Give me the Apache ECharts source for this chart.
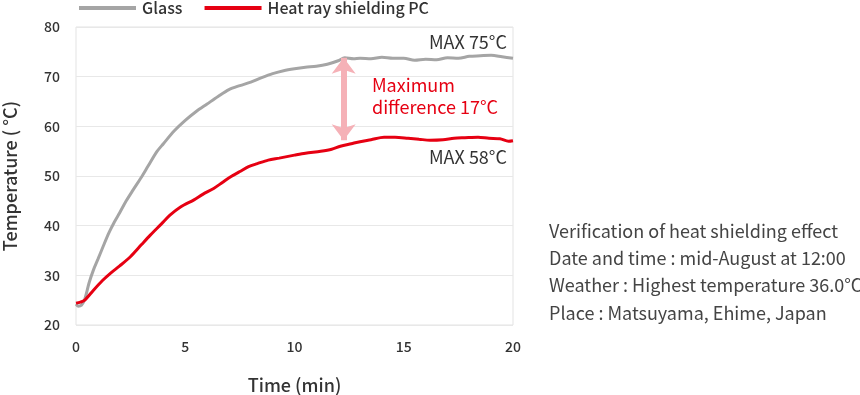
<!DOCTYPE html>
<html><head><meta charset="utf-8">
<script src="https://cdn.jsdelivr.net/npm/echarts@6/dist/echarts.min.js"></script>
<style>html,body{margin:0;padding:0;background:#fff}#c{width:860px;height:395px}</style>
</head><body><div id="c"></div>
<script>
const glassTime = [0,0.1,0.25,0.4,0.6,0.8,1.0,1.25,1.5,1.75,2.0,2.3,2.6,3.0,3.3,3.7,4.0,4.5,5.0,5.5,6.0,6.5,7.0,7.5,8.0,8.5,9.0,9.5,10,10.5,11,11.5,12,12.3,12.7,13,13.5,14,14.5,15,15.5,16,16.5,17,17.5,18,18.5,19,19.5,20];
const glassTemp = [24.2,23.8,24.0,25.2,28.5,31.1,33.2,35.9,38.5,40.7,42.6,45.0,47.1,49.8,52.0,54.9,56.5,59.1,61.2,63.0,64.5,66.0,67.4,68.2,68.9,69.8,70.6,71.2,71.6,71.9,72.1,72.5,73.2,73.8,73.6,73.7,73.6,73.9,73.7,73.7,73.3,73.5,73.4,73.8,73.7,74.1,74.2,74.3,74.0,73.7];
const pcTime = [0,0.2,0.4,0.8,1.2,1.6,2.0,2.5,3.0,3.4,3.9,4.3,4.8,5.4,5.8,6.3,6.7,7.1,7.5,7.9,8.3,8.8,9.3,10.0,10.5,11.2,11.7,12.1,12.6,13.0,13.5,14.1,14.6,15.2,15.7,16.2,16.8,17.3,17.8,18.4,18.9,19.4,19.8,20];
const pcTemp = [24.4,24.6,25.0,27.0,28.9,30.5,31.9,33.8,36.2,38.1,40.3,42.1,43.8,45.2,46.3,47.5,48.7,49.9,50.9,51.9,52.5,53.2,53.6,54.2,54.6,55.0,55.4,56.0,56.5,56.9,57.3,57.8,57.8,57.6,57.4,57.2,57.3,57.6,57.7,57.8,57.6,57.5,57.0,57.1];
const seriesNames = ['Glass','Heat ray shielding PC'];
const xTicks = {min:0,max:20,interval:5};
const yTicks = {min:20,max:80,interval:10};
const arrowTime = 12.25;
const arrowRange = [73.8, 57.2];
const notes = ['Verification of heat shielding effect','Date and time : mid-August at 12:00','Weather : Highest temperature 36.0°C','Place : Matsuyama, Ehime, Japan'];

const FONT = '"Noto Sans CJK JP","Noto Sans",sans-serif';
const chart = echarts.init(document.getElementById('c'));
const pair = (xs, ys) => xs.map((x,i)=>[x, ys[i]]);
const noteGraphics = notes.map((t,i)=>({type:'text', left:549, top:222 + i*27.3, style:{text:t, font:'18px '+FONT, fill:'#444'}}));
chart.setOption({
  animation:false,
  textStyle:{fontFamily:FONT},
  grid:{left:76, right:347, top:27, bottom:70, show:true, borderColor:'#e3e3e3', borderWidth:1, outerBoundsMode:'none', containLabel:false},
  legend:{top:0, left:79, padding:0, itemWidth:57, itemHeight:4, itemGap:22, icon:'rect',
    textStyle:{fontSize:16, color:'#333', fontWeight:500, fontFamily:FONT, padding:[0,0,0,1]},
    data:seriesNames},
  xAxis:{type:'value', min:xTicks.min, max:xTicks.max, interval:xTicks.interval,
    name:'Time (min)', nameLocation:'middle', nameGap:51,
    nameTextStyle:{fontSize:18, color:'#333', fontWeight:500, fontFamily:FONT},
    axisLine:{show:false}, axisTick:{show:false}, splitLine:{show:false},
    axisLabel:{fontSize:14, color:'#333', fontWeight:500, margin:15, fontFamily:FONT}},
  yAxis:{type:'value', min:yTicks.min, max:yTicks.max, interval:yTicks.interval,
    name:'Temperature ( °C)', nameLocation:'middle', nameGap:57,
    nameTextStyle:{fontSize:18, color:'#333', fontWeight:500, fontFamily:FONT},
    axisLine:{show:false}, axisTick:{show:false},
    splitLine:{lineStyle:{color:'#e8e8e8', width:1}},
    axisLabel:{fontSize:14, color:'#333', fontWeight:500, margin:16, fontFamily:FONT}},
  series:[
    {name:seriesNames[0], type:'line', data:pair(glassTime, glassTemp), showSymbol:false, smooth:0.3,
      lineStyle:{color:'#a5a5a5', width:3}, itemStyle:{color:'#a5a5a5'}, z:3},
    {name:seriesNames[1], type:'line', data:pair(pcTime, pcTemp), showSymbol:false, smooth:0.3,
      lineStyle:{color:'#e60012', width:3}, itemStyle:{color:'#e60012'}, z:4,
      markLine:{silent:true, symbol:['arrow','arrow'], symbolSize:[18,16], label:{show:false},
        lineStyle:{color:'#f5b1b7', width:6, type:'solid'},
        data:[[{coord:[arrowTime, arrowRange[0]]},{coord:[arrowTime, arrowRange[1]]}]]}}
  ],
  graphic:[
    {type:'text', right:353, top:33, style:{text:'MAX 75°C', font:'18px '+FONT, fill:'#333', align:'right'}},
    {type:'text', right:353, top:148, style:{text:'MAX 58°C', font:'18px '+FONT, fill:'#333', align:'right'}},
    {type:'text', left:372, top:74, style:{text:'Maximum\ndifference 17°C', font:'18px '+FONT, fill:'#e60012', lineHeight:22}}
  ].concat(noteGraphics)
});
</script></body></html>
